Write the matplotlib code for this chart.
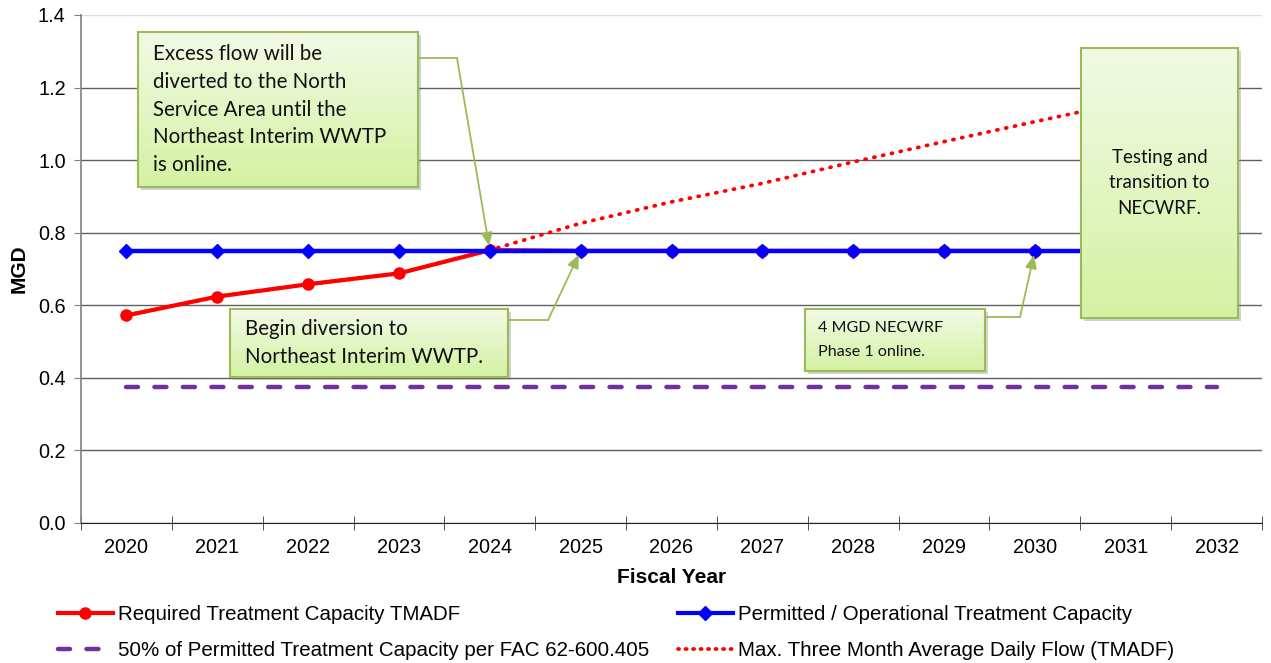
import numpy as np
import matplotlib
matplotlib.use("Agg")
import matplotlib.pyplot as plt
from matplotlib.lines import Line2D
from matplotlib.patches import Rectangle
from matplotlib.transforms import IdentityTransform
from matplotlib.colors import LinearSegmentedColormap

# ---------------- data ----------------
years = ["2020", "2021", "2022", "2023", "2024", "2025", "2026",
         "2027", "2028", "2029", "2030", "2031", "2032"]
required = [0.572, 0.624, 0.658, 0.688, 0.752, 0.75, 0.75, 0.75, 0.75, 0.75, 0.75]
permitted = [0.75, 0.75, 0.75, 0.75, 0.75, 0.75, 0.75, 0.75, 0.75, 0.75, 0.75, 0.75]
half_permitted = [0.375] * 13
max_tmadf = [0.572, 0.624, 0.658, 0.688, 0.752, 0.826, 0.885, 0.936, 0.995, 1.051, 1.106, 1.16]

lbl_req = "Required Treatment Capacity TMADF"
lbl_perm = "Permitted / Operational Treatment Capacity"
lbl_half = "50% of Permitted Treatment Capacity per FAC 62-600.405"
lbl_max = "Max. Three Month Average Daily Flow (TMADF)"

# ---------------- figure ----------------
W, H = 1271, 663
DPI = 100
SANS = ["Liberation Sans", "DejaVu Sans"]
BOXF = ["Lato", "DejaVu Sans"]
plt.rcParams["font.family"] = SANS

fig = plt.figure(figsize=(W / DPI, H / DPI), dpi=DPI)
ax = fig.add_axes([81 / W, (H - 523) / H, (1262 - 81) / W, (523 - 15) / H])
ax.set_zorder(0)

x_all = np.arange(len(years))
RED, BLUE, PURPLE, GREEN = "#FF0000", "#0000FF", "#7030A0", "#9BBB59"

ax.plot(x_all[:len(max_tmadf)], max_tmadf, color=RED, lw=2.7, ls=(0, (0.3, 2.1)),
        dash_capstyle="round", zorder=3)
ax.plot(x_all[:len(half_permitted)], half_permitted, color=PURPLE, lw=3.2,
        ls=(0, (2.7, 3.7)), dash_capstyle="round", zorder=3)
ax.plot(x_all[:len(required)], required, color=RED, lw=3.0, marker="o", ms=8,
        mfc=RED, mec=RED, zorder=4)
ax.plot(x_all[:len(permitted)], permitted, color=BLUE, lw=3.2, marker="D", ms=7,
        mfc=BLUE, mec=BLUE, zorder=5)

ax.set_xlim(-0.5, len(years) - 0.5)
ax.set_ylim(0, 1.4)
yt = np.arange(0, 1.41, 0.2)
ax.set_yticks(yt)
ax.set_yticklabels([f"{v:.1f}" for v in yt], fontsize=14.3)
ax.set_xticks(x_all)
ax.set_xticklabels(years, fontsize=14.3)
ax.set_xticks(np.arange(-0.5, len(years), 1.0), minor=True)
ax.tick_params(axis="x", which="major", length=0, pad=11)
ax.tick_params(axis="x", which="minor", direction="inout", length=10, color="#333333")
ax.tick_params(axis="y", which="major", direction="out", length=5, color="#808080", pad=6)
ax.grid(axis="y", color="#606060", lw=1.0, zorder=0)
ax.get_ygridlines()[-1].set_color("#DDDDDD")
for s in ["top", "right"]:
    ax.spines[s].set_visible(False)
ax.spines["left"].set_color("#808080")
ax.spines["left"].set_linewidth(1.2)
ax.spines["bottom"].set_color("#222222")
ax.set_ylabel("MGD", fontsize=15, fontweight="bold", labelpad=7)
ax.set_xlabel("Fiscal Year", fontsize=15, fontweight="bold", labelpad=8)

# ---------------- legend ----------------
h_req = Line2D([], [], color=RED, lw=3.0, marker="o", ms=8)
h_perm = Line2D([], [], color=BLUE, lw=3.0, marker="D", ms=7)
h_half = Line2D([], [], color=PURPLE, lw=3.2, ls=(0, (2.7, 3.7)), dash_capstyle="round")
h_max = Line2D([], [], color=RED, lw=2.7, ls=(0, (0.3, 1.7)), dash_capstyle="round")
fig.legend([h_req, h_half, h_perm, h_max], [lbl_req, lbl_half, lbl_perm, lbl_max],
           ncol=2, loc="upper left", bbox_to_anchor=(39.5 / W, (H - 587) / H),
           frameon=False, fontsize=14.8, handlelength=2.67, handletextpad=0.25,
           columnspacing=1.4, labelspacing=0.8)

# ---------------- callout boxes ----------------
cmap = LinearSegmentedColormap.from_list("g", ["#F2FAE6", "#D4F2A2"])
grad = np.linspace(0, 1, 256).reshape(-1, 1)
ID = IdentityTransform()


def callout(x0, y0, x1, y1, text, fs, ls, ha="left", tx=None):
    sh = Rectangle((x0 + 3, H - y1 - 3), x1 - x0, y1 - y0, transform=ID,
                   facecolor="#7f7f7f", alpha=0.35, edgecolor="none", zorder=1)
    fig.add_artist(sh)
    bax = fig.add_axes([x0 / W, (H - y1) / H, (x1 - x0) / W, (y1 - y0) / H])
    bax.set_zorder(2)
    bax.imshow(grad, aspect="auto", cmap=cmap, extent=[0, 1, 0, 1])
    bax.set_xticks([])
    bax.set_yticks([])
    for s in bax.spines.values():
        s.set_color(GREEN)
        s.set_linewidth(1.5)
    if ha == "left":
        bax.text(tx, 0.5, text, transform=bax.transAxes, ha="left", va="center",
                 fontsize=fs, family=BOXF, color="#111111", linespacing=ls)
    else:
        bax.text(0.5, 0.5, text, transform=bax.transAxes, ha="center", va="center",
                 fontsize=fs, family=BOXF, color="#111111", linespacing=ls,
                 multialignment="center")


def leader(x_box, y_px, x_elbow, xi, yv):
    fig.add_artist(Line2D([x_box, x_elbow], [H - y_px, H - y_px], transform=ID,
                          color=GREEN, lw=1.3, zorder=3))
    ax.annotate("", xy=(xi, yv), xycoords="data",
                xytext=(x_elbow, H - y_px), textcoords="figure pixels",
                arrowprops=dict(arrowstyle="-|>,head_length=0.8,head_width=0.35",
                                color=GREEN, lw=1.3, shrinkA=0, shrinkB=3),
                zorder=10)


leader(418, 58, 457, 4, required[4])
leader(508, 320, 548, 5, permitted[5])
leader(985, 317, 1020, 10, permitted[10])

callout(138, 32, 418, 187,
        "Excess flow will be\ndiverted to the North\nService Area until the\nNortheast Interim WWTP\nis online.",
        14.8, 1.47, tx=15 / 280)
callout(230, 309, 508, 377, "Begin diversion to\nNortheast Interim WWTP.", 14.8, 1.47,
        tx=15 / 278)
callout(805, 309, 985, 371, "4 MGD NECWRF\nPhase 1 online.", 11.6, 1.85, tx=13 / 180)
callout(1081, 48, 1238, 318, "Testing and\ntransition to\nNECWRF.", 13.5, 1.64, ha="center")

fig.savefig("out.png", dpi=DPI)
